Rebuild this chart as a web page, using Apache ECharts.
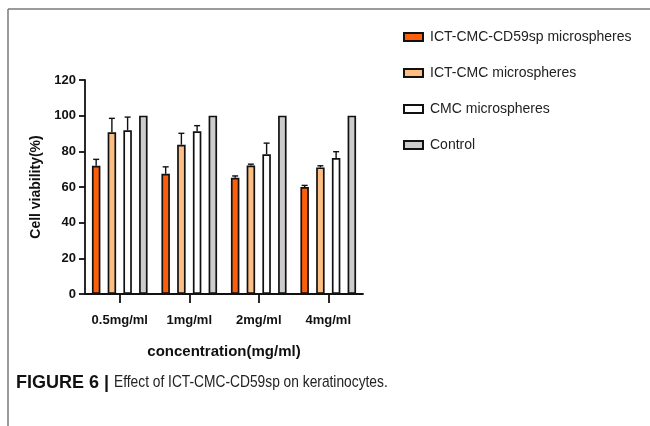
<!DOCTYPE html>
<html>
<head>
<meta charset="utf-8">
<script src="https://cdn.jsdelivr.net/npm/echarts@6/dist/echarts.min.js"></script>
<style>
  html, body { margin: 0; padding: 0; background: #fff; }
  #chart { width: 650px; height: 426px; }
</style>
</head>
<body>
<div id="chart"></div>
<script>
// Concentrations tested
const categories = ['0.5mg/ml', '1mg/ml', '2mg/ml', '4mg/ml'];

// Cell viability (%) per group, mean values
const seriesNames = ['ICT-CMC-CD59sp microspheres', 'ICT-CMC microspheres', 'CMC microspheres', 'Control'];
const viabilityCD59sp = [71.9, 67.4, 65.2, 60.0];
const viabilityICTCMC = [90.7, 83.7, 72.0, 71.0];
const viabilityCMC = [91.8, 91.3, 78.4, 76.2];
const viabilityControl = [100, 100, 100, 100];

// Standard deviations (upper error bars)
const sdCD59sp = [3.6, 3.9, 1.0, 0.9];
const sdICTCMC = [7.8, 6.4, 0.8, 0.9];
const sdCMC = [7.4, 3.1, 6.2, 3.6];
const sdControl = [0, 0, 0, 0];

// Y axis ticks
const yMin = 0, yMax = 120, yStep = 20;

const fills = ['#FA5F0C', '#FDBE84', '#FFFFFF', '#CCCCCC'];
const means = [viabilityCD59sp, viabilityICTCMC, viabilityCMC, viabilityControl];
const sds = [sdCD59sp, sdICTCMC, sdCMC, sdControl];

const BAR_W = 8.5;
const BAR_GAP = 0.85;         // gap between bars as a fraction of bar width
const PITCH = BAR_W * (1 + BAR_GAP);

const chart = echarts.init(document.getElementById('chart'), null, { renderer: 'canvas' });

const barSeries = seriesNames.map((name, i) => ({
  name: name,
  type: 'bar',
  barWidth: BAR_W,
  barGap: (BAR_GAP * 100) + '%',
  data: means[i],
  itemStyle: { color: fills[i], borderColor: '#111', borderWidth: 1.7 },
  emphasis: { disabled: true },
  z: 2
}));

// Upper error bars, one custom series per group, shifted to sit on its bar
const errSeries = seriesNames.map((name, i) => ({
  type: 'custom',
  name: name + ' SD',
  z: 3,
  silent: true,
  data: categories.map((c, k) => [k, means[i][k], sds[i][k]]),
  renderItem: function (params, api) {
    const err = api.value(2);
    if (!err) return null;
    const base = api.coord([api.value(0), api.value(1)]);
    const top = api.coord([api.value(0), api.value(1) + err]);
    const x = base[0] + (i - (seriesNames.length - 1) / 2) * PITCH;
    const cap = 3;
    const style = { stroke: '#111', lineWidth: 1.4, fill: null };
    return {
      type: 'group',
      children: [
        { type: 'line', shape: { x1: x, y1: base[1], x2: x, y2: top[1] }, style: style },
        { type: 'line', shape: { x1: x - cap, y1: top[1], x2: x + cap, y2: top[1] }, style: style }
      ]
    };
  }
}));

const boldAxisText = { color: '#111', fontFamily: 'Liberation Sans, Arial, sans-serif', fontWeight: 'bold' };

chart.setOption({
  animation: false,
  backgroundColor: '#fff',
  grid: { left: 85, top: 80, width: 278, height: 214, containLabel: false },
  legend: {
    orient: 'vertical',
    left: 403,
    top: 30,
    padding: 0,
    itemWidth: 19,
    itemHeight: 8,
    itemGap: 22,
    icon: 'rect',
    data: seriesNames,
    textStyle: { fontSize: 14, color: '#222', fontFamily: 'Liberation Sans, Arial, sans-serif', padding: [0, 0, 0, 2] }
  },
  xAxis: {
    type: 'category',
    data: categories,
    name: 'concentration(mg/ml)',
    nameLocation: 'middle',
    nameGap: 50,
    nameTextStyle: Object.assign({ fontSize: 15 }, boldAxisText),
    axisLine: { show: true, lineStyle: { color: '#111', width: 1.8 } },
    axisTick: { show: true, alignWithLabel: true, interval: 0, inside: false, length: 9, lineStyle: { color: '#111', width: 1.8 } },
    axisLabel: Object.assign({ fontSize: 13, margin: 20, interval: 0 }, boldAxisText)
  },
  yAxis: {
    type: 'value',
    min: yMin,
    max: yMax,
    interval: yStep,
    name: 'Cell viability(%)',
    nameLocation: 'middle',
    nameGap: 42,
    nameRotate: 90,
    nameTextStyle: Object.assign({ fontSize: 14 }, boldAxisText),
    axisLine: { show: true, lineStyle: { color: '#111', width: 1.8 } },
    axisTick: { show: true, length: 6, lineStyle: { color: '#111', width: 1.8 } },
    axisLabel: Object.assign({ fontSize: 13, margin: 9 }, boldAxisText),
    splitLine: { show: false }
  },
  graphic: [
    // frame lines at top and left
    { type: 'line', shape: { x1: 8, y1: 9, x2: 650, y2: 9 }, style: { stroke: '#7a7a7a', lineWidth: 1.5 } },
    { type: 'line', shape: { x1: 8, y1: 9, x2: 8, y2: 426 }, style: { stroke: '#7a7a7a', lineWidth: 1.5 } },
    // figure caption
    {
      type: 'text',
      x: 16,
      y: 374,
      style: {
        text: 'FIGURE 6 |',
        fontSize: 18, fontWeight: 'bold', fill: '#111',
        fontFamily: 'Liberation Sans, Arial, sans-serif'
      }
    },
    {
      type: 'text',
      x: 114,
      y: 374,
      scaleX: 0.81,
      style: {
        text: 'Effect of ICT-CMC-CD59sp on keratinocytes.',
        fontSize: 17, fill: '#222',
        fontFamily: 'Liberation Sans, Arial, sans-serif'
      }
    }
  ],
  series: barSeries.concat(errSeries)
});
</script>
</body>
</html>
